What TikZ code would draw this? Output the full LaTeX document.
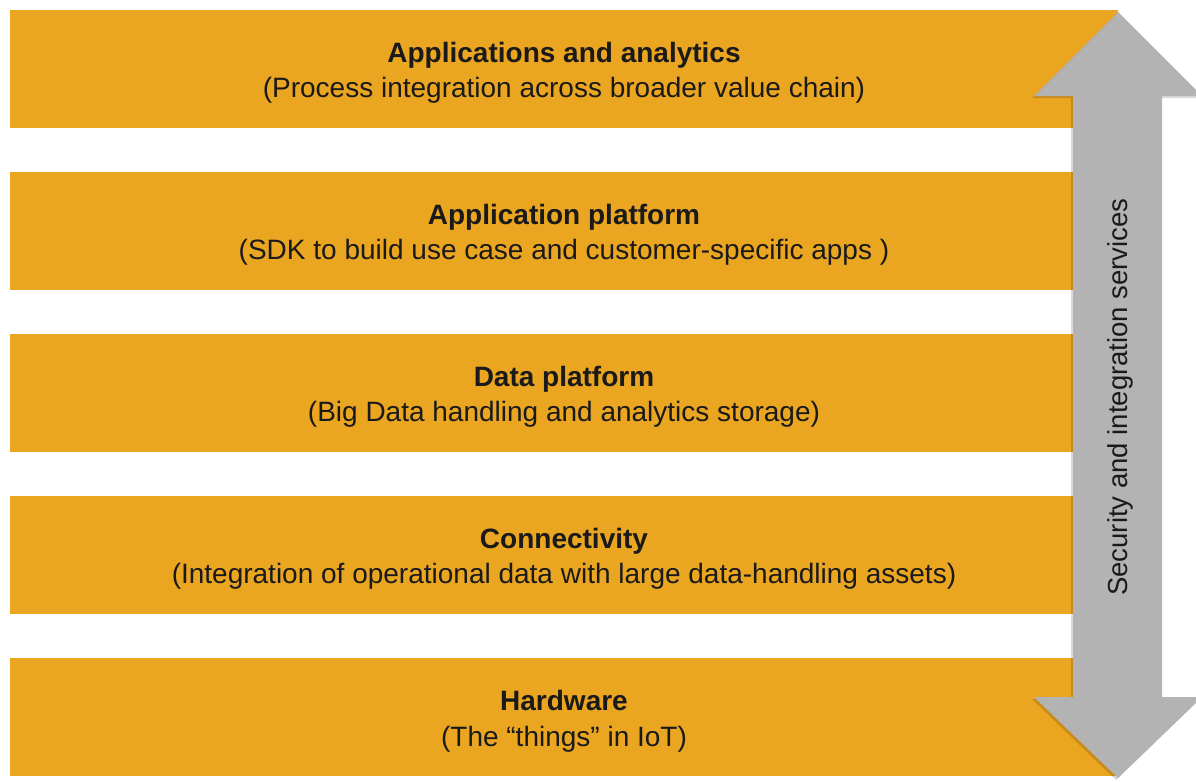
\documentclass[tikz,border=0pt]{standalone}
\usepackage{fontspec}
\setmainfont{Liberation Sans}
\definecolor{barorange}{HTML}{EAA521}
\definecolor{arrowgrey}{HTML}{B3B3B3}
\definecolor{txt}{HTML}{1A1A1A}
\begin{document}
\begin{tikzpicture}[x=1pt,y=-1pt,
  layer/.style={fill=barorange, draw=none, minimum width=1108pt, minimum height=118pt,
    inner sep=0pt, align=center, text=txt, font=\fontsize{28}{35.5}\selectfont},
  caption/.style={align=center, text=txt, font=\fontsize{28}{35.5}\selectfont, inner sep=0pt},
  sidelabel/.style={rotate=90, text=txt, font=\fontsize{27.5}{31}\selectfont, inner sep=0pt}]
\useasboundingbox (0,0) rectangle (1196,782);
\fill[white] (0,0) rectangle (1196,782);
\node[layer] (l1) at (564,69) {};
\node[layer] (l2) at (564,231) {};
\node[layer] (l3) at (564,393) {};
\node[layer] (l4) at (564,555) {};
\node[layer] (l5) at (564,717) {};
\node[caption] (t1) at ([yshift=-4pt]l1.center) {\textbf{Applications and analytics}\\(Process integration across broader value chain)};
\node[caption] (t2) at ([yshift=-4pt]l2.center) {\textbf{Application platform}\\(SDK to build use case and customer-specific apps )};
\node[caption] (t3) at ([yshift=-4pt]l3.center) {\textbf{Data platform}\\(Big Data handling and analytics storage)};
\node[caption] (t4) at ([yshift=-4pt]l4.center) {\textbf{Connectivity}\\(Integration of operational data with large data-handling assets)};
\node[caption] (t5) at ([yshift=-4pt]l5.center) {\textbf{Hardware}\\(The “things” in IoT)};
% shadow of the double arrow
\fill[black, opacity=0.15, shift={(-2,2)}]
  (1118,12) -- (1034,96) -- (1073,96) -- (1073,697) -- (1034,697) -- (1118,778)
  -- (1202,697) -- (1162,697) -- (1162,96) -- (1202,96) -- cycle;
% double arrow
\fill[arrowgrey]
  (1118,12) -- (1034,96) -- (1073,96) -- (1073,697) -- (1034,697) -- (1118,778)
  -- (1202,697) -- (1162,697) -- (1162,96) -- (1202,96) -- cycle;
\node[sidelabel] (sec) at (1120,397) {Security and integration services};
\end{tikzpicture}
\end{document}
